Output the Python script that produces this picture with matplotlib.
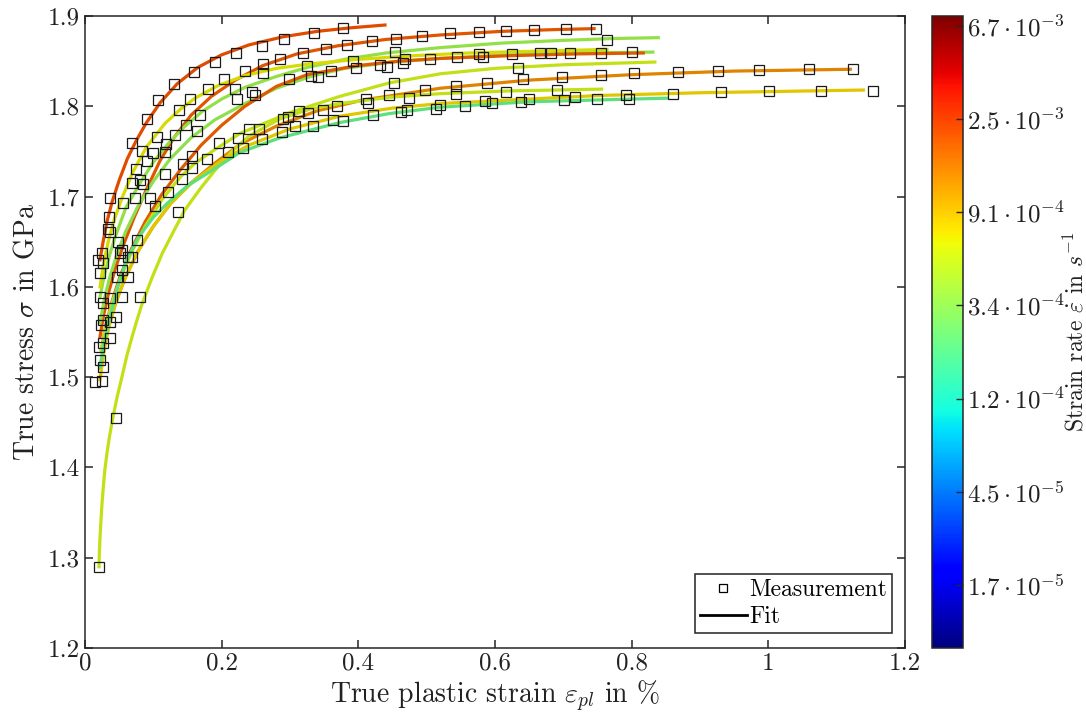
import numpy as np
import matplotlib
matplotlib.use("Agg")
import matplotlib.pyplot as plt
from matplotlib.colors import Normalize
from matplotlib.cm import ScalarMappable
from matplotlib.lines import Line2D

plt.rcParams['font.family'] = 'serif'
plt.rcParams['font.serif'] = ['cmr10']
plt.rcParams['mathtext.fontset'] = 'cm'
plt.rcParams['axes.formatter.use_mathtext'] = True

# strain rates of the fitted curves (1/s)
rate_a, rate_b, rate_c, rate_d = 2.2e-3, 2.0e-3, 3.6e-4, 6.8e-4
rate_e, rate_f, rate_g, rate_h = 3.4e-4, 1.9e-3, 5.6e-4, 1.4e-3
rate_i, rate_j, rate_k = 5.6e-4, 8.0e-4, 2.2e-4

# fit curves (strain in %, stress in GPa)
x_a = [0.022, 0.026, 0.032, 0.040, 0.050, 0.062, 0.075, 0.090, 0.110, 0.135, 0.165, 0.200, 0.240, 0.290, 0.340, 0.390, 0.439]
y_a = [1.630, 1.648, 1.672, 1.695, 1.718, 1.742, 1.762, 1.782, 1.804, 1.825, 1.843, 1.857, 1.868, 1.877, 1.883, 1.887, 1.890]

x_b = [0.022, 0.027, 0.035, 0.045, 0.058, 0.072, 0.090, 0.110, 0.130, 0.155, 0.185, 0.220, 0.260, 0.310, 0.370, 0.440, 0.520, 0.610, 0.690, 0.745]
y_b = [1.545, 1.568, 1.595, 1.622, 1.650, 1.677, 1.708, 1.740, 1.765, 1.790, 1.811, 1.829, 1.845, 1.858, 1.867, 1.874, 1.879, 1.883, 1.885, 1.886]

x_c = [0.022, 0.028, 0.036, 0.044, 0.060, 0.083, 0.100, 0.121, 0.145, 0.171, 0.200, 0.234, 0.280, 0.325, 0.380, 0.440, 0.520, 0.610, 0.700, 0.770, 0.839]
y_c = [1.589, 1.612, 1.635, 1.655, 1.688, 1.718, 1.738, 1.758, 1.777, 1.794, 1.808, 1.821, 1.833, 1.843, 1.852, 1.859, 1.865, 1.870, 1.873, 1.875, 1.876]

x_d = [0.022, 0.027, 0.034, 0.043, 0.055, 0.070, 0.090, 0.117, 0.140, 0.161, 0.195, 0.234, 0.280, 0.330, 0.400, 0.480, 0.560, 0.660, 0.764]
y_d = [1.600, 1.625, 1.650, 1.675, 1.700, 1.727, 1.755, 1.781, 1.797, 1.809, 1.823, 1.834, 1.842, 1.847, 1.852, 1.856, 1.859, 1.861, 1.863]

x_e = [0.022, 0.028, 0.036, 0.047, 0.060, 0.078, 0.100, 0.125, 0.155, 0.190, 0.234, 0.280, 0.330, 0.380, 0.450, 0.520, 0.620, 0.720, 0.831]
y_e = [1.560, 1.585, 1.610, 1.637, 1.662, 1.690, 1.717, 1.742, 1.765, 1.785, 1.803, 1.820, 1.833, 1.842, 1.849, 1.853, 1.857, 1.859, 1.860]

x_f = [0.024, 0.030, 0.040, 0.052, 0.068, 0.088, 0.112, 0.140, 0.170, 0.200, 0.234, 0.280, 0.325, 0.398, 0.460, 0.520, 0.620, 0.720, 0.817]
y_f = [1.530, 1.556, 1.585, 1.613, 1.642, 1.672, 1.702, 1.730, 1.757, 1.779, 1.800, 1.822, 1.835, 1.845, 1.850, 1.853, 1.856, 1.858, 1.859]

x_g = [0.024, 0.030, 0.040, 0.052, 0.068, 0.088, 0.113, 0.140, 0.161, 0.190, 0.227, 0.300, 0.373, 0.446, 0.520, 0.600, 0.700, 0.834]
y_g = [1.530, 1.555, 1.583, 1.610, 1.638, 1.667, 1.697, 1.722, 1.737, 1.752, 1.770, 1.793, 1.811, 1.826, 1.836, 1.842, 1.846, 1.849]

x_h = [0.022, 0.028, 0.036, 0.047, 0.060, 0.078, 0.100, 0.125, 0.155, 0.190, 0.227, 0.280, 0.340, 0.407, 0.520, 0.650, 0.800, 0.950, 1.120]
y_h = [1.510, 1.535, 1.560, 1.587, 1.612, 1.640, 1.667, 1.692, 1.715, 1.737, 1.758, 1.778, 1.795, 1.807, 1.820, 1.829, 1.835, 1.839, 1.841]

x_i = [0.0205, 0.021, 0.022, 0.0235, 0.025, 0.027, 0.029, 0.032, 0.036, 0.041, 0.047, 0.054, 0.061, 0.069, 0.076, 0.083, 0.098,
       0.113, 0.130, 0.146, 0.168, 0.190, 0.215, 0.240, 0.285, 0.330, 0.373, 0.446, 0.520, 0.620, 0.756]
y_i = [1.290, 1.306, 1.323, 1.343, 1.361, 1.380, 1.397, 1.415, 1.435, 1.456, 1.478, 1.500, 1.523, 1.545, 1.563, 1.580, 1.610,
       1.637, 1.662, 1.685, 1.708, 1.729, 1.750, 1.767, 1.786, 1.797, 1.803, 1.810, 1.814, 1.817, 1.819]

x_j = [0.022, 0.027, 0.034, 0.044, 0.057, 0.075, 0.098, 0.125, 0.160, 0.200, 0.240, 0.300, 0.373, 0.450, 0.520, 0.650, 0.754, 0.900, 1.139]
y_j = [1.497, 1.525, 1.553, 1.580, 1.607, 1.636, 1.665, 1.692, 1.718, 1.740, 1.757, 1.775, 1.789, 1.798, 1.803, 1.808, 1.812, 1.815, 1.818]

x_k = [0.022, 0.027, 0.035, 0.048, 0.060, 0.078, 0.100, 0.121, 0.150, 0.186, 0.227, 0.285, 0.373, 0.446, 0.520, 0.650, 0.750, 0.852]
y_k = [1.511, 1.535, 1.562, 1.600, 1.628, 1.655, 1.677, 1.693, 1.712, 1.729, 1.749, 1.765, 1.782, 1.792, 1.799, 1.805, 1.807, 1.809]

# measured points
meas_strain = [0.069, 0.091, 0.107, 0.130, 0.160, 0.190, 0.221, 0.259, 0.291, 0.335, 0.378,
               0.234, 0.261, 0.285, 0.319, 0.353, 0.383, 0.420, 0.455, 0.493, 0.534, 0.577, 0.616, 0.657, 0.704, 0.748,
               0.261, 0.244, 0.249, 0.299, 0.325, 0.331, 0.341, 0.360, 0.392, 0.397, 0.432, 0.442, 0.454, 0.465, 0.468,
               0.505, 0.544, 0.577, 0.582, 0.625, 0.666, 0.682, 0.710, 0.755, 0.801, 0.764,
               0.220, 0.222, 0.168, 0.138, 0.148, 0.164, 0.132, 0.105, 0.117, 0.100, 0.083, 0.091, 0.075, 0.080, 0.069,
               0.203, 0.180, 0.154,
               0.452, 0.634, 0.411, 0.445, 0.474, 0.498, 0.543, 0.543, 0.588, 0.616, 0.641, 0.691, 0.698, 0.755, 0.803,
               0.868, 0.926, 0.986, 1.060, 1.124,
               0.240, 0.255, 0.259, 0.290, 0.297, 0.313, 0.326, 0.348, 0.369, 0.231, 0.288, 0.307, 0.334, 0.363, 0.378,
               0.422, 0.414, 0.462, 0.471, 0.514, 0.520, 0.556, 0.585, 0.596, 0.638, 0.650, 0.701, 0.717, 0.749, 0.792,
               0.796, 0.861, 0.931, 1.001, 1.077, 1.153,
               0.196, 0.157, 0.179, 0.209, 0.224, 0.143, 0.157, 0.142, 0.117, 0.056, 0.035, 0.034, 0.048, 0.073, 0.085,
               0.095, 0.102, 0.121, 0.136, 0.080, 0.054, 0.063, 0.047, 0.022, 0.025, 0.019, 0.026, 0.022, 0.037, 0.026,
               0.026, 0.023, 0.037, 0.045, 0.037, 0.026, 0.020, 0.022, 0.026, 0.015, 0.025, 0.045, 0.020, 0.076, 0.063,
               0.069, 0.051, 0.054, 0.037, 0.054, 0.037, 0.119]
meas_stress = [1.759, 1.786, 1.807, 1.825, 1.838, 1.849, 1.859, 1.867, 1.875, 1.881, 1.887,
               1.839, 1.847, 1.852, 1.859, 1.864, 1.868, 1.872, 1.875, 1.878, 1.881, 1.882, 1.883, 1.885, 1.886, 1.886,
               1.837, 1.816, 1.813, 1.830, 1.845, 1.834, 1.832, 1.839, 1.850, 1.842, 1.846, 1.844, 1.860, 1.848, 1.852,
               1.852, 1.855, 1.858, 1.855, 1.858, 1.859, 1.859, 1.859, 1.859, 1.860, 1.873,
               1.819, 1.808, 1.790, 1.796, 1.779, 1.773, 1.768, 1.766, 1.749, 1.748, 1.751, 1.739, 1.731, 1.718, 1.715,
               1.830, 1.819, 1.808,
               1.826, 1.842, 1.808, 1.813, 1.809, 1.818, 1.823, 1.814, 1.826, 1.816, 1.830, 1.818, 1.832, 1.835, 1.837,
               1.838, 1.839, 1.840, 1.841, 1.841,
               1.775, 1.775, 1.764, 1.786, 1.788, 1.795, 1.793, 1.796, 1.800, 1.754, 1.772, 1.778, 1.778, 1.785, 1.784,
               1.790, 1.804, 1.794, 1.796, 1.797, 1.801, 1.800, 1.806, 1.804, 1.805, 1.808, 1.807, 1.810, 1.808, 1.813,
               1.808, 1.814, 1.816, 1.817, 1.817, 1.817,
               1.759, 1.745, 1.742, 1.749, 1.765, 1.736, 1.732, 1.720, 1.725, 1.693, 1.677, 1.664, 1.650, 1.698, 1.714,
               1.698, 1.690, 1.705, 1.683, 1.589, 1.589, 1.611, 1.611, 1.589, 1.638, 1.630, 1.626, 1.615, 1.588, 1.582,
               1.563, 1.558, 1.561, 1.567, 1.543, 1.538, 1.533, 1.519, 1.511, 1.495, 1.496, 1.455, 1.290, 1.652, 1.633,
               1.633, 1.638, 1.619, 1.661, 1.641, 1.698, 1.758]

# colorbar ticks: ln of strain rate
cbar_ticks = [-11, -10, -9, -8, -7, -6, -5]
cbar_labels = [r'$1.7\cdot10^{-5}$', r'$4.5\cdot10^{-5}$', r'$1.2\cdot10^{-4}$', r'$3.4\cdot10^{-4}$',
               r'$9.1\cdot10^{-4}$', r'$2.5\cdot10^{-3}$', r'$6.7\cdot10^{-3}$']
x_ticks = [0, 0.2, 0.4, 0.6, 0.8, 1.0, 1.2]
y_ticks = [1.2, 1.3, 1.4, 1.5, 1.6, 1.7, 1.8, 1.9]

curves = [(x_a, y_a, rate_a), (x_b, y_b, rate_b), (x_c, y_c, rate_c), (x_d, y_d, rate_d),
          (x_e, y_e, rate_e), (x_f, y_f, rate_f), (x_g, y_g, rate_g), (x_h, y_h, rate_h),
          (x_i, y_i, rate_i), (x_j, y_j, rate_j), (x_k, y_k, rate_k)]

W, H = 1086, 725
fig = plt.figure(figsize=(W / 100, H / 100), dpi=100)
ax = fig.add_axes([85 / W, 1 - 648 / H, 820 / W, 632 / H])
cax = fig.add_axes([932 / W, 1 - 648 / H, 31 / W, 632 / H])

cmap = plt.get_cmap('jet')
norm = Normalize(vmin=-11.68, vmax=-4.89)
edge = (0.15, 0.15, 0.15)
txt = '#222222'

for xs, ys, rate in curves:
    col = np.array(cmap(norm(np.log(rate))))
    col[:3] *= 0.88
    ax.plot(xs, ys, color=col, lw=2.3, zorder=2)

ax.plot(meas_strain, meas_stress, ls='none', marker='s', ms=6.5, mfc='none',
        mec=(0.1, 0.1, 0.1), mew=0.9, zorder=3)

ax.set_xlim(0, 1.2)
ax.set_ylim(1.2, 1.9)
ax.set_xticks(x_ticks, [f'{v:g}' for v in x_ticks])
ax.set_yticks(y_ticks, [f'{v:g}' for v in y_ticks])
ax.tick_params(direction='in', length=6, width=1.1, colors=edge, labelsize=18,
               top=True, right=True, labelcolor=txt)
for s in ax.spines.values():
    s.set_color(edge)
    s.set_linewidth(1.1)
ax.set_xlabel(r'True plastic strain $\varepsilon_{pl}$ in %', fontsize=20, color=txt, labelpad=3)
ax.set_ylabel(r'True stress $\sigma$ in GPa', fontsize=20, color=txt, labelpad=6)

handles = [Line2D([], [], ls='none', marker='s', ms=5.5, mfc='none', mec='black', mew=0.9),
           Line2D([], [], color='black', lw=2)]
leg = ax.legend(handles, ['Measurement', 'Fit'], loc='lower right', bbox_to_anchor=(0.984, 0.024),
                borderaxespad=0, fancybox=False, edgecolor=txt, framealpha=1,
                fontsize=17, handlelength=2.0, handletextpad=0.1, labelspacing=0.2,
                borderpad=0.2)
leg.get_frame().set_linewidth(1.1)

cb = fig.colorbar(ScalarMappable(norm=norm, cmap=cmap), cax=cax)
cb.set_ticks(cbar_ticks, labels=cbar_labels)
cax.tick_params(direction='in', length=5, width=1, colors=edge, labelsize=18, labelcolor=txt, pad=3)
cb.outline.set_edgecolor(edge)
cb.outline.set_linewidth(1.1)
cb.set_label(r'Strain rate $\dot{\varepsilon}$ in $s^{-1}$', fontsize=17, color=txt)
cax.yaxis.set_label_coords(4.22, 0.5)

fig.savefig('out.png', dpi=100)
